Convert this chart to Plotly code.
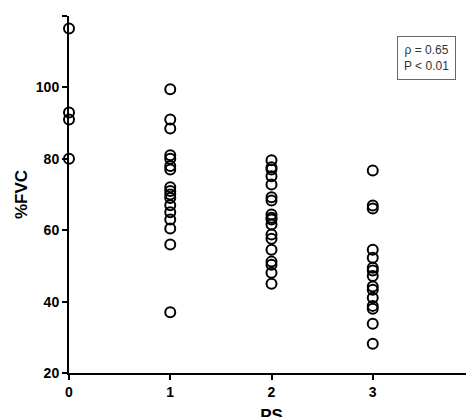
import plotly.graph_objects as go

PS0 = [116.5, 93, 91, 80]
PS1 = [99.5, 91, 88.5, 81, 80, 78, 77, 72, 71, 70, 69, 67, 65, 63, 60.5, 56, 37]
PS2 = [79.6, 77.6, 77.0, 75.1, 72.8, 69.2, 68.3, 64.4, 63.5, 63.0, 61.6, 58.8,
       57.6, 54.5, 51.2, 50.3, 48.1, 45.0]
PS3 = [76.7, 66.9, 66.1, 54.5, 52.3, 49.5, 48.7, 47.2, 44.2, 43.3, 41.1, 38.8,
       38.0, 33.8, 28.2]
X_TICKS = [0, 1, 2, 3, 4]
Y_TICKS = [20, 40, 60, 80, 100, 120]

xs, ys = [], []
for ps, vals in enumerate([PS0, PS1, PS2, PS3]):
    xs += [ps] * len(vals)
    ys += vals

fig = go.Figure(go.Scatter(
    x=xs, y=ys, mode="markers", cliponaxis=False,
    marker=dict(symbol="circle-open", size=10, color="black", line_width=2),
))

axis = dict(showline=True, linecolor="black", linewidth=2, ticks="outside",
            ticklen=5, tickwidth=2, tickcolor="black", showgrid=False,
            zeroline=False,
            tickfont=dict(family="Liberation Sans", size=14, color="black"))
fig.update_xaxes(range=[0, 4], tickvals=X_TICKS,
                 ticktext=[f"<b>{v}</b>" for v in X_TICKS],
                 title_text="<b>PS</b>", title_standoff=14, **axis)
fig.update_yaxes(range=[20, 120], tickvals=Y_TICKS,
                 ticktext=[f"<b>{v}</b>" for v in Y_TICKS],
                 title_text="<b>%FVC</b>", title_standoff=4, **axis)

fig.update_layout(
    width=474, height=417,
    margin=dict(l=61, r=8, t=8, b=52, autoexpand=False),
    plot_bgcolor="white", paper_bgcolor="white",
    font=dict(family="Liberation Sans", size=14, color="black"),
    showlegend=False,
    annotations=[dict(
        x=0.955, y=0.945, xref="paper", yref="paper", xanchor="right", yanchor="top",
        text="ρ = 0.65<br>P < 0.01", showarrow=False, align="center",
        font=dict(size=12, color="#333"), bordercolor="#666", borderwidth=1,
        borderpad=6, bgcolor="white",
    )],
)

fig.write_html("out.html")
